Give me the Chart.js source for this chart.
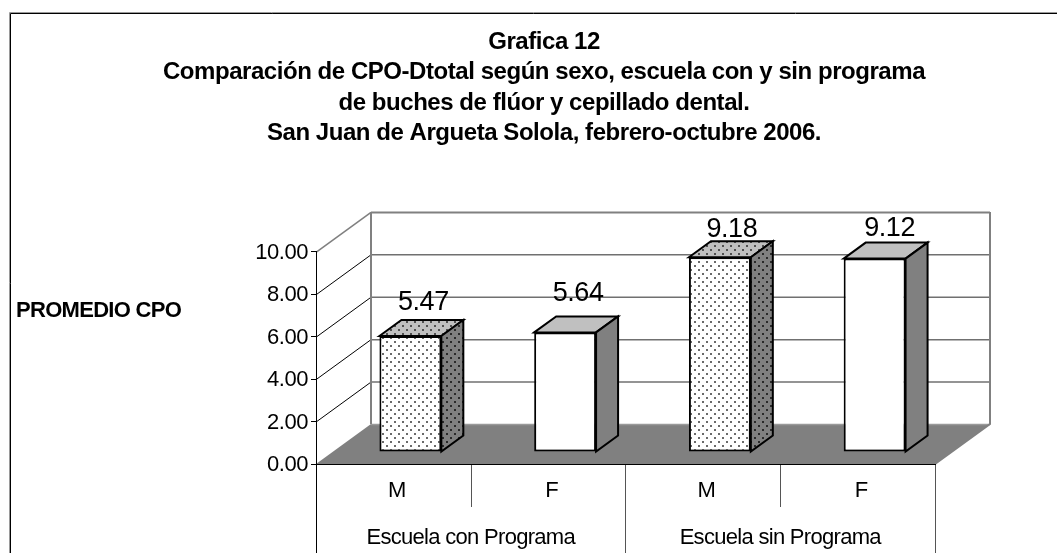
<!DOCTYPE html>
<html><head><meta charset="utf-8">
<script src="https://cdn.jsdelivr.net/npm/chart.js@4"></script>
<style>html,body{margin:0;padding:0;background:#fff;overflow:hidden}canvas{display:block}</style>
</head><body><canvas id="c" width="1057" height="553"></canvas>
<script>
const categories = ['M','F','M','F'];
const groupLabels = ['Escuela con Programa','Escuela sin Programa'];
const promedio = [5.47,5.64,9.18,9.12];
const titleLines = ['Grafica 12','Comparación de CPO-Dtotal según sexo, escuela con y sin programa','de buches de flúor y cepillado dental.','San Juan de Argueta Solola, febrero-octubre 2006.'];
const yAxisLabel = 'PROMEDIO CPO';

const FONT = '"Liberation Sans", Arial, sans-serif';
const SPACING = '-0.45px';
const wall = {dx:55, dy:-40};
const barShift = {dx:17, dy:-12};
const barDepth = {dx:22, dy:-16};
const labelShift = [[13,-33],[13,-39],[12,-28],[15,-30]];

const canvas = document.getElementById('c');
const ctx = canvas.getContext('2d');

function dots(base, dot){
  const t = document.createElement('canvas'); t.width = 8; t.height = 8;
  const g = t.getContext('2d');
  g.fillStyle = base; g.fillRect(0,0,8,8);
  g.fillStyle = dot;
  [[1,1],[5,5]].forEach(p=>{
    g.fillRect(p[0],p[1],2,2);
  });
  return ctx.createPattern(t,'repeat');
}
const patFront = dots('#ffffff','#6a6a6a');
const patTop = dots('#c0c0c0','#505050');
const patSide = dots('#808080','#2a2a2a');
const dotted = i => i % 2 === 0;

const scene = {
  id:'scene',
  beforeLayout(c){ c.ctx.letterSpacing = SPACING; },
  beforeDraw(c){
    const g = c.ctx, a = c.chartArea, y = c.scales.y;
    g.letterSpacing = SPACING;
    g.save();
    g.fillStyle = '#fff'; g.fillRect(0,0,c.width,c.height);
    // outer frame
    g.strokeStyle = '#9a9a9a'; g.lineWidth = 1;
    g.beginPath(); g.moveTo(9.5,553); g.lineTo(9.5,12.5); g.lineTo(1057,12.5); g.stroke();
    g.strokeStyle = '#000';
    g.beginPath(); g.moveTo(10.5,553); g.lineTo(10.5,13.5); g.lineTo(1057,13.5); g.stroke();
    // floor
    g.fillStyle = '#808080';
    g.beginPath();
    g.moveTo(a.left,a.bottom); g.lineTo(a.left+wall.dx,a.bottom+wall.dy);
    g.lineTo(a.right+wall.dx,a.bottom+wall.dy); g.lineTo(a.right,a.bottom); g.closePath(); g.fill();
    // walls
    y.ticks.forEach(t=>{
      const py = y.getPixelForValue(t.value);
      const top = t.value === y.max, low = t.value === y.min;
      if(!low){
        g.strokeStyle = top ? '#808080' : '#000'; g.lineWidth = top ? 1.5 : 1;
        g.beginPath(); g.moveTo(a.left,py+.5); g.lineTo(a.left+wall.dx,py+wall.dy+.5); g.stroke();
      }
      g.strokeStyle = top ? '#808080' : (low ? '#9a9a9a' : '#707070'); g.lineWidth = top ? 2 : 1.5;
      g.beginPath(); g.moveTo(a.left+wall.dx,py+wall.dy+.5); g.lineTo(a.right+wall.dx,py+wall.dy+.5); g.stroke();
    });
    g.strokeStyle = '#808080'; g.lineWidth = 2;
    g.beginPath(); g.moveTo(a.left+wall.dx,a.top+wall.dy); g.lineTo(a.left+wall.dx,a.bottom+wall.dy); g.stroke();
    g.beginPath(); g.moveTo(a.right+wall.dx,a.top+wall.dy); g.lineTo(a.right+wall.dx,a.bottom+wall.dy);
    g.lineTo(a.right,a.bottom); g.stroke();
    // multi-level axis dividers
    const x = c.scales.x, step = (a.right-a.left)/categories.length;
    g.strokeStyle = '#000'; g.lineWidth = 1;
    g.beginPath(); g.moveTo(a.left+.5,a.bottom); g.lineTo(a.left+.5,553); g.stroke();
    g.strokeStyle = '#555';
    g.beginPath(); g.moveTo(a.right+.5,a.bottom); g.lineTo(a.right+.5,553); g.stroke();
    g.beginPath(); g.moveTo(x.getPixelForValue(1)+step/2,a.bottom); g.lineTo(x.getPixelForValue(1)+step/2,553); g.stroke();
    [0,2].forEach(i=>{
      const px = Math.round(x.getPixelForValue(i)+step/2)+.5;
      g.beginPath(); g.moveTo(px,a.bottom); g.lineTo(px,507); g.stroke();
    });
    g.restore();
  },
  beforeDatasetDraw(c){
    const g = c.ctx;
    g.save();
    g.translate(barShift.dx,barShift.dy);
    c.getDatasetMeta(0).data.forEach((b,i)=>{
      const p = b.getProps(['x','y','base','width'],true);
      const l = p.x-p.width/2, r = p.x+p.width/2;
      g.lineWidth = 2; g.strokeStyle = '#000'; g.lineJoin = 'miter';
      g.fillStyle = dotted(i) ? patTop : '#c0c0c0';
      g.beginPath(); g.moveTo(l,p.y); g.lineTo(l+barDepth.dx,p.y+barDepth.dy);
      g.lineTo(r+barDepth.dx,p.y+barDepth.dy); g.lineTo(r,p.y); g.closePath(); g.fill(); g.stroke();
      g.fillStyle = dotted(i) ? patSide : '#808080';
      g.beginPath(); g.moveTo(r,p.y); g.lineTo(r+barDepth.dx,p.y+barDepth.dy);
      g.lineTo(r+barDepth.dx,p.base+barDepth.dy); g.lineTo(r,p.base); g.closePath(); g.fill(); g.stroke();
    });
  },
  afterDatasetDraw(c){
    const g = c.ctx;
    g.restore();
    g.save();
    g.fillStyle = '#000'; g.textAlign = 'center'; g.textBaseline = 'middle';
    g.font = '27px '+FONT; g.letterSpacing = '-0.4px';
    c.getDatasetMeta(0).data.forEach((b,i)=>{
      const p = b.getProps(['x','y'],true);
      g.fillText(promedio[i].toFixed(2), p.x+barShift.dx+labelShift[i][0], p.y+barShift.dy+labelShift[i][1]);
    });
    g.restore();
  },
  afterDraw(c){
    const g = c.ctx, x = c.scales.x;
    g.save();
    g.fillStyle = '#000'; g.textBaseline = 'middle';
    g.font = '22px '+FONT; g.textAlign = 'center'; g.letterSpacing = '-0.7px';
    groupLabels.forEach((s,i)=>{
      const cx = (x.getPixelForValue(i*2)+x.getPixelForValue(i*2+1))/2;
      g.fillText(s,cx,538);
    });
    g.font = 'bold 22px '+FONT; g.textAlign = 'left'; g.letterSpacing = '-0.7px';
    g.fillText(yAxisLabel,16,311);
    g.restore();
  }
};

new Chart(ctx,{
  type:'bar',
  data:{labels:categories,datasets:[{
    data:promedio,
    backgroundColor:categories.map((_,i)=>dotted(i)?patFront:'#ffffff'),
    borderColor:'#000',borderWidth:2,borderSkipped:false,
    categoryPercentage:1,barPercentage:0.4,clip:false
  }]},
  options:{
    responsive:false,animation:false,events:[],
    layout:{padding:{left:31,right:0,top:0,bottom:0}},
    plugins:{
      legend:{display:false},tooltip:{enabled:false},
      title:{display:true,text:titleLines,color:'#000',
        font:{family:FONT,size:24,weight:'bold',lineHeight:1.27},
        padding:{top:27,bottom:103}}
    },
    scales:{
      x:{type:'category',
        grid:{display:false},border:{display:true,color:'#000',width:1},
        ticks:{color:'#000',font:{family:FONT,size:22},padding:6,maxRotation:0,labelOffset:3.5},
        afterFit(s){s.height=89;}},
      y:{type:'linear',min:0,max:10,
        grid:{drawOnChartArea:false,drawTicks:true,tickLength:5,color:'#000'},
        border:{display:true,color:'#000',width:1},
        ticks:{stepSize:2,color:'#000',font:{family:FONT,size:22},padding:3,labelOffset:1,callback:v=>Number(v).toFixed(2)},
        afterFit(s){s.width=285;}},
      pad:{type:'linear',position:'right',display:true,
        grid:{display:false},border:{display:false},ticks:{display:false},
        afterFit(s){s.width=122;}}
    }
  },
  plugins:[scene]
});
</script></body></html>
